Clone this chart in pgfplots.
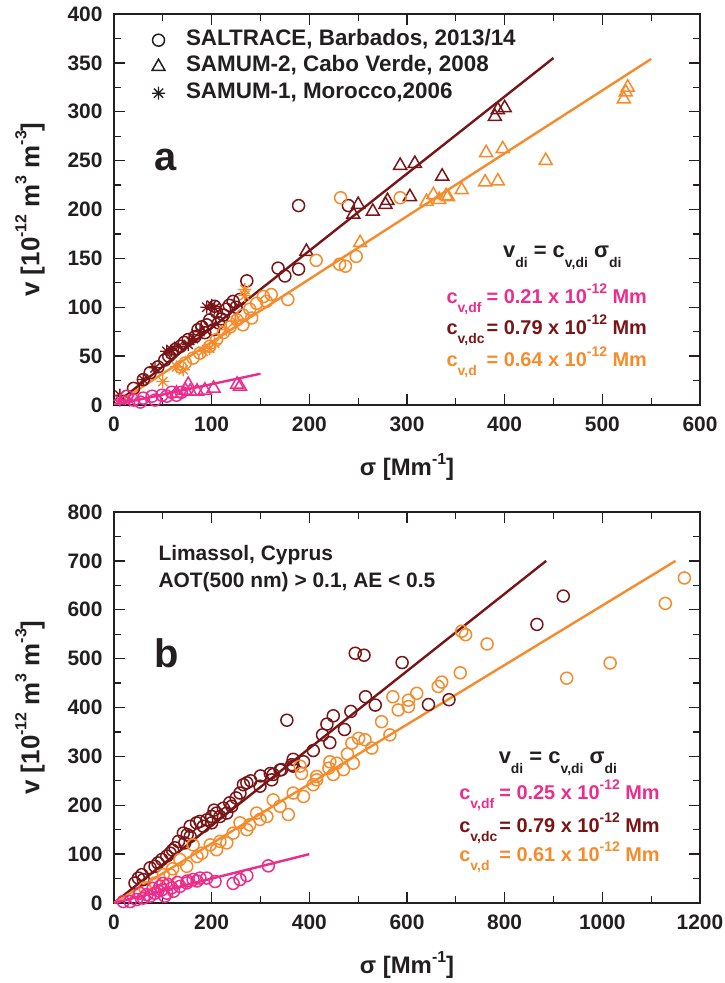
\documentclass[border=0pt]{standalone}
\usepackage{pgfplots}
\pgfplotsset{compat=1.18}
\usepackage{fontspec}
\setmainfont{Liberation Sans}
\definecolor{cpink}{HTML}{EC2D8C}
\definecolor{cdred}{HTML}{7A1517}
\definecolor{corange}{HTML}{F68B2B}
\definecolor{ctext}{HTML}{231F20}
\newcommand\fs[1]{\fontsize{#1}{#1}\selectfont}
\newcommand\sub[1]{\raisebox{-0.45em}{\fs{14}#1}}
\newcommand\sups[1]{\raisebox{0.5em}{\fs{14}#1}}
\newcommand\lsup[1]{\raisebox{0.5em}{\fs{16}#1}}
\pgfdeclareplotmark{ast8}{%
  \pgfpathmoveto{\pgfqpoint{0pt}{\pgfplotmarksize}}\pgfpathlineto{\pgfqpoint{0pt}{-\pgfplotmarksize}}%
  \pgfpathmoveto{\pgfqpoint{\pgfplotmarksize}{0pt}}\pgfpathlineto{\pgfqpoint{-\pgfplotmarksize}{0pt}}%
  \pgfpathmoveto{\pgfqpoint{0.7071\pgfplotmarksize}{0.7071\pgfplotmarksize}}\pgfpathlineto{\pgfqpoint{-0.7071\pgfplotmarksize}{-0.7071\pgfplotmarksize}}%
  \pgfpathmoveto{\pgfqpoint{-0.7071\pgfplotmarksize}{0.7071\pgfplotmarksize}}\pgfpathlineto{\pgfqpoint{0.7071\pgfplotmarksize}{-0.7071\pgfplotmarksize}}%
  \pgfusepathqstroke}
\pgfplotsset{
 every axis x label/.style={at={(rel axis cs:0.5,0)}, yshift=-62bp, anchor=center},
 every axis y label/.style={at={(rel axis cs:0,0.5)}, xshift=-84bp, rotate=90, anchor=center},
 myaxis/.style={
  scale only axis, width=586bp, height=391bp,
  axis line style={line width=1.5bp, ctext},
  every tick/.style={line width=1.3bp, ctext},
  tick align=inside,
  major tick length=11bp, minor tick length=7bp,
  ticklabel style={font=\fs{21}\bfseries, text=ctext},
  /pgf/number format/assume math mode=true,
  /pgf/number format/set thousands separator={},
  xticklabel style={yshift=-8bp},
  yticklabel style={xshift=-8bp},
  xlabel style={font=\fs{24}\bfseries, text=ctext},
  ylabel style={font=\fs{26}\bfseries, text=ctext},
  xlabel={σ [Mm\lsup{-1}]},
  ylabel={v [10\lsup{-12} m\lsup{3} m\lsup{-3}]},
 },
 pc/.style={only marks, mark=o, mark size=6bp, mark options={line width=1.5bp}},
 pt/.style={only marks, mark=triangle, mark size=7.5bp, mark options={line width=1.5bp}},
 ps/.style={only marks, mark=ast8, mark size=6.5bp, mark options={line width=1.3bp}},
 legimg/.style={legend image code/.code={\path[draw=none, fill=none] (0bp,-6bp) rectangle (40bp,6bp); \draw[##1] plot coordinates {(14bp,0bp)};}},
}
\begin{document}
\begin{tikzpicture}
\useasboundingbox (-114bp,-80bp) rectangle (611bp,903bp);
% ---------------- panel a ----------------
\begin{axis}[myaxis, at={(0,498bp)},
  xmin=0, xmax=600, ymin=0, ymax=400,
  xtick={0,100,...,600}, minor xtick={50,150,...,550},
  ytick={0,50,...,400}, minor ytick={25,75,...,375},
  legend style={at={(axis cs:28,389)}, anchor=north west, draw=none, fill=none,
    font=\fs{22.5}\bfseries, text=ctext, row sep=0bp,
    nodes={inner sep=1.5bp, text height=17bp, text depth=6.5bp}},
  legend cell align=left]
\addlegendimage{legimg, only marks, mark=o, mark size=6bp, ctext, mark options={line width=1.5bp}}
\addlegendentry{SALTRACE, Barbados, 2013/14}
\addlegendimage{legimg, only marks, mark=triangle, mark size=7.5bp, ctext, mark options={line width=1.5bp}}
\addlegendentry{SAMUM-2, Cabo Verde, 2008}
\addlegendimage{legimg, only marks, mark=ast8, mark size=6.5bp, ctext, mark options={line width=1.3bp}}
\addlegendentry{SAMUM-1, Morocco,2006}
% dark red (coarse)
\addplot[pc, cdred, forget plot] coordinates {
(20,17) (30,26) (37,33) (45,39) (52,46) (56,50) (59,53) (63,57) (68,60) (72,64) (76,67)
(83,70) (86,77) (90,80) (93,74) (95,82) (98,87) (102,77) (103,101) (105,95) (107,84)
(110,88) (112,92) (115,98) (118,102) (122,106) (125,100) (129,108) (136,127)
(168,140) (175,132) (189,139) (189,204) (240,204)};
\addplot[pt, cdred, forget plot] coordinates {
(197,157) (245,195) (250,205) (265,198) (278,205) (280,209) (303,213) (293,245)
(308,247) (336,234) (390,295) (393,302) (400,304)};
\addplot[ps, cdred, forget plot] coordinates {
(6,10) (30,26) (42,38) (54,55) (59,56) (66,60) (76,62) (81,68) (88,75) (95,100) (100,102) (103,99)};
% orange (total dust)
\addplot[pc, corange, forget plot] coordinates {
(68,39) (73,43) (81,48) (88,53) (98,60) (105,67) (112,74) (119,80) (126,87) (132,92)
(132,82) (139,98) (141,89) (146,104) (153,111) (156,106) (161,113) (178,108)
(207,148) (231,144) (237,142) (248,152) (232,212) (293,212)};
\addplot[ps, corange, forget plot] coordinates {
(50,24) (64,39) (71,36) (91,55) (98,58) (103,63) (115,77) (124,86) (134,112) (134,118)};
\addplot[pt, corange, forget plot] coordinates {
(252,166) (320,208) (327,215) (333,210) (340,214) (342,213) (356,220) (380,228)
(393,229) (381,258) (398,262) (442,250) (522,313) (524,320) (526,325)};
% pink (fine)
\addplot[pc, cpink, forget plot] coordinates {
(13,9) (20,5) (27,3) (30,7) (39,9) (42,5) (49,10) (54,9) (59,13) (64,10) (69,13)};
\addplot[pt, cpink, forget plot] coordinates {
(64,12) (73,15) (76,21) (78,14) (85,14) (93,15) (102,17) (126,21) (129,19)};
\addplot[ps, cpink, forget plot] coordinates {(6,5) (16,5)};
% fit lines
\addplot[cdred, line width=2.4bp, forget plot] coordinates {(0,0) (450,355)};
\addplot[corange, line width=2.4bp, forget plot] coordinates {(0,0) (550,354)};
\addplot[cpink, line width=2.4bp, forget plot] coordinates {(0,0) (150,32)};
\node[font=\fs{40}\bfseries, text=ctext] at (axis cs:53,251) {a};
\node[font=\fs{22}\bfseries, text=ctext, anchor=base] at (axis cs:459,151)
  {v\sub{di} = c\sub{v,di} σ\sub{di}};
\node[font=\fs{20}\bfseries, text=cpink, anchor=base west] at (axis cs:337,104)
  {\makebox[40bp][l]{c\sub{v,df}}= 0.21 x 10\sups{-12} Mm};
\node[font=\fs{20}\bfseries, text=cdred, anchor=base west] at (axis cs:337,72)
  {\makebox[40bp][l]{c\sub{v,dc}}= 0.79 x 10\sups{-12} Mm};
\node[font=\fs{20}\bfseries, text=corange, anchor=base west] at (axis cs:337,39)
  {\makebox[40bp][l]{c\sub{v,d}}= 0.64 x 10\sups{-12} Mm};
\end{axis}
% ---------------- panel b ----------------
\begin{axis}[myaxis, at={(0,0)},
  xmin=0, xmax=1200, ymin=0, ymax=800,
  xtick={0,200,...,1200}, minor xtick={100,300,...,1100},
  ytick={0,100,...,800}, minor ytick={50,150,...,750}]
\addplot[pc, cdred] coordinates {
(43,41) (50,51) (57,58) (60,48) (74,72) (84,75) (90,82) (98,89) (108,96) (115,102) (120,108)
(125,113) (132,126) (142,143) (145,123) (150,140) (156,157) (156,136) (169,164) (176,167)
(183,157) (190,170) (200,177) (200,164) (205,190) (210,184) (217,177) (224,194) (231,184)
(237,205) (241,198) (250,215) (258,225) (265,242) (272,246) (280,250) (299,239) (300,260)
(320,265) (323,252) (326,263) (340,272) (343,273) (354,374) (364,283) (367,294) (367,280)
(388,289) (408,312) (427,344) (436,366) (442,328) (449,383) (472,355) (485,392)
(494,511) (512,507) (515,422) (535,405) (590,492) (644,406) (686,416) (866,570) (920,628)};
\addplot[pc, corange] coordinates {
(63,31) (84,41) (101,58) (115,58) (120,70) (135,89) (149,75) (162,119) (170,95) (180,102)
(197,119) (210,109) (217,126) (231,123) (244,143) (258,164) (272,150) (278,160) (292,184)
(299,171) (313,177) (326,211) (340,198) (357,181) (367,225) (381,280) (384,265) (388,218)
(408,242) (415,252) (415,259) (440,276) (442,289) (449,263) (456,286) (470,273) (478,305)
(487,327) (490,286) (501,337) (514,334) (528,317) (548,371) (565,344) (571,422) (582,395)
(603,402) (603,415) (620,429) (664,443) (671,452) (709,471) (712,556) (720,549) (764,530)
(927,460) (1016,491) (1129,613) (1168,665)};
\addplot[pc, cpink] coordinates {
(19,3) (33,3) (46,7) (53,20) (60,10) (67,17) (74,14) (80,30) (84,20) (90,25) (94,34) (98,27)
(100,40) (104,14) (108,20) (111,38) (118,31) (122,24) (130,42) (135,34) (149,41) (150,45)
(162,48) (170,45) (176,51) (190,51) (207,44) (244,40) (258,48) (272,56) (316,76)};
\addplot[cdred, line width=2.4bp] coordinates {(0,0) (885,700)};
\addplot[corange, line width=2.4bp] coordinates {(0,0) (1150,700)};
\addplot[cpink, line width=2.4bp] coordinates {(0,0) (400,100)};
\node[font=\fs{40}\bfseries, text=ctext] at (axis cs:108,511) {b};
\node[font=\fs{21}\bfseries, text=ctext, anchor=base west] at (axis cs:84,700) {Limassol, Cyprus};
\node[font=\fs{21}\bfseries, text=ctext, anchor=base west] at (axis cs:84,645) {AOT(500 nm) > 0.1, AE < 0.5};
\node[font=\fs{22}\bfseries, text=ctext, anchor=base] at (axis cs:909,286)
  {v\sub{di} = c\sub{v,di} σ\sub{di}};
\node[font=\fs{20}\bfseries, text=cpink, anchor=base west] at (axis cs:700,211)
  {\makebox[40bp][l]{c\sub{v,df}}= 0.25 x 10\sups{-12} Mm};
\node[font=\fs{20}\bfseries, text=cdred, anchor=base west] at (axis cs:700,145)
  {\makebox[40bp][l]{c\sub{v,dc}}= 0.79 x 10\sups{-12} Mm};
\node[font=\fs{20}\bfseries, text=corange, anchor=base west] at (axis cs:700,84)
  {\makebox[40bp][l]{c\sub{v,d}}= 0.61 x 10\sups{-12} Mm};
\end{axis}
\end{tikzpicture}
\end{document}
